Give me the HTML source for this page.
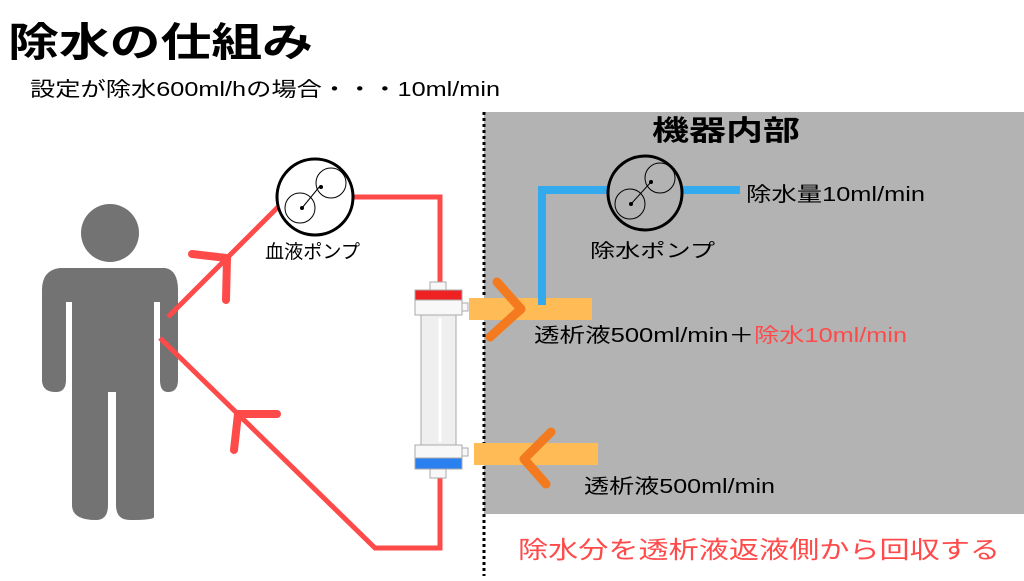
<!DOCTYPE html>
<html><head><meta charset="utf-8"><style>
body{margin:0;width:1024px;height:576px;overflow:hidden;background:#fff;font-family:"Liberation Sans","Noto Sans CJK JP",sans-serif}
svg text{font-family:"Liberation Sans","Noto Sans CJK JP",sans-serif}
</style></head><body>
<svg width="1024" height="576" viewBox="0 0 1024 576" xmlns="http://www.w3.org/2000/svg">
<rect x="484" y="112" width="540" height="402" fill="#b3b3b3"/>
<line x1="484" y1="112" x2="484" y2="576" stroke="#000" stroke-width="3" stroke-dasharray="3,3"/>
<text x="8" y="56" font-size="40" font-weight="bold" textLength="305" lengthAdjust="spacingAndGlyphs">除水の仕組み</text>
<text x="30" y="96" font-size="20" textLength="470" lengthAdjust="spacingAndGlyphs">設定が除水600ml/hの場合・・・10ml/min</text>
<text x="652" y="140" font-size="28" font-weight="bold" textLength="148" lengthAdjust="spacingAndGlyphs">機器内部</text>
<!-- person -->
<g fill="#737373">
<circle cx="110" cy="233" r="29"/>
<path d="M60 268 H165 Q178 270 178 290 V380 Q178 392 168 392 Q160 392 160 380 V302 H154 V517 Q154 520 130 520 Q116 520 116 505 V392 H108 V505 Q108 520 96 520 Q72 520 72 505 V302 H66 V380 Q66 392 56 392 Q42 392 42 380 V290 Q42 270 60 268 Z"/>
</g>
<!-- blood circuit -->
<g stroke="#ff4a4a" stroke-width="5" fill="none" stroke-linejoin="miter">
<line x1="168" y1="317" x2="278" y2="207"/>
<polyline points="353,197 440,197 440,282"/>
<polyline points="440,478 440,548 375,548 160,338"/>
<path d="M192 254 L227 258 L226 300" stroke-width="8" stroke-linecap="round"/>
<path d="M277 414 L238 414 L234 450" stroke-width="8" stroke-linecap="round"/>
</g>
<!-- blood pump -->
<g stroke="#000" fill="none">
<circle cx="315" cy="197" r="38" stroke-width="3"/>
<circle cx="300" cy="208" r="15" stroke-width="1"/>
<circle cx="331" cy="183" r="15" stroke-width="1"/>
<line x1="302" y1="208" x2="320" y2="186" stroke-width="1"/>
</g>
<circle cx="302" cy="208" r="2"/><circle cx="321" cy="187" r="2"/>
<text x="265" y="258" font-size="19" textLength="95" lengthAdjust="spacingAndGlyphs">血液ポンプ</text>
<!-- orange -->
<rect x="469" y="298" width="123" height="22" fill="#ffbb55"/>
<rect x="474" y="443" width="124" height="22" fill="#ffbb55"/>
<!-- dialyzer -->
<g stroke="#aaa" stroke-width="1">
<rect x="430" y="282" width="16" height="9" fill="#f8f8f8"/>
<rect x="415" y="290" width="47" height="10" fill="#ee2222"/>
<rect x="415" y="300" width="47" height="15" fill="#f8f8f8"/>
<rect x="462" y="303" width="6" height="8" fill="#f8f8f8"/>
<rect x="421" y="315" width="35" height="130" fill="#efefef"/>
<rect x="415" y="445" width="47" height="13" fill="#f8f8f8"/>
<rect x="462" y="448" width="6" height="8" fill="#f8f8f8"/>
<rect x="415" y="458" width="47" height="11" fill="#2a80ee"/>
<rect x="430" y="469" width="16" height="9" fill="#f8f8f8"/>
</g>
<line x1="440" y1="318" x2="440" y2="442" stroke="#fff" stroke-width="3"/>
<g stroke="#f47a20" stroke-width="9" fill="none" stroke-linecap="round" stroke-linejoin="round">
<path d="M497 282 L521 309 L490 337"/>
<path d="M551 432 L524 459 L546 484"/>
</g>
<!-- dialysate blue line -->
<polyline points="542,305 542,190 608,190" stroke="#33aaee" stroke-width="8" fill="none"/>
<line x1="683" y1="190" x2="740" y2="190" stroke="#33aaee" stroke-width="8"/>
<g stroke="#000" fill="none">
<circle cx="645" cy="193" r="37" fill="#b3b3b3" stroke-width="3"/>
<circle cx="630" cy="204" r="15" stroke-width="1"/>
<circle cx="660" cy="178" r="15" stroke-width="1"/>
<line x1="631" y1="204" x2="651" y2="182" stroke-width="1"/>
</g>
<circle cx="631" cy="204" r="2"/><circle cx="651" cy="182" r="2"/>
<text x="746" y="201" font-size="20" textLength="179" lengthAdjust="spacingAndGlyphs">除水量10ml/min</text>
<text x="590" y="257" font-size="19" textLength="125" lengthAdjust="spacingAndGlyphs">除水ポンプ</text>
<text x="534" y="342" font-size="20" textLength="220" lengthAdjust="spacingAndGlyphs">透析液500ml/min＋</text>
<text x="754" y="342" font-size="20" fill="#ff4a4a" textLength="153" lengthAdjust="spacingAndGlyphs">除水10ml/min</text>
<text x="584" y="493" font-size="20" textLength="191" lengthAdjust="spacingAndGlyphs">透析液500ml/min</text>
<text x="518" y="558" font-size="24" fill="#ff4a4a" textLength="482" lengthAdjust="spacingAndGlyphs">除水分を透析液返液側から回収する</text>
</svg>
</body></html>
